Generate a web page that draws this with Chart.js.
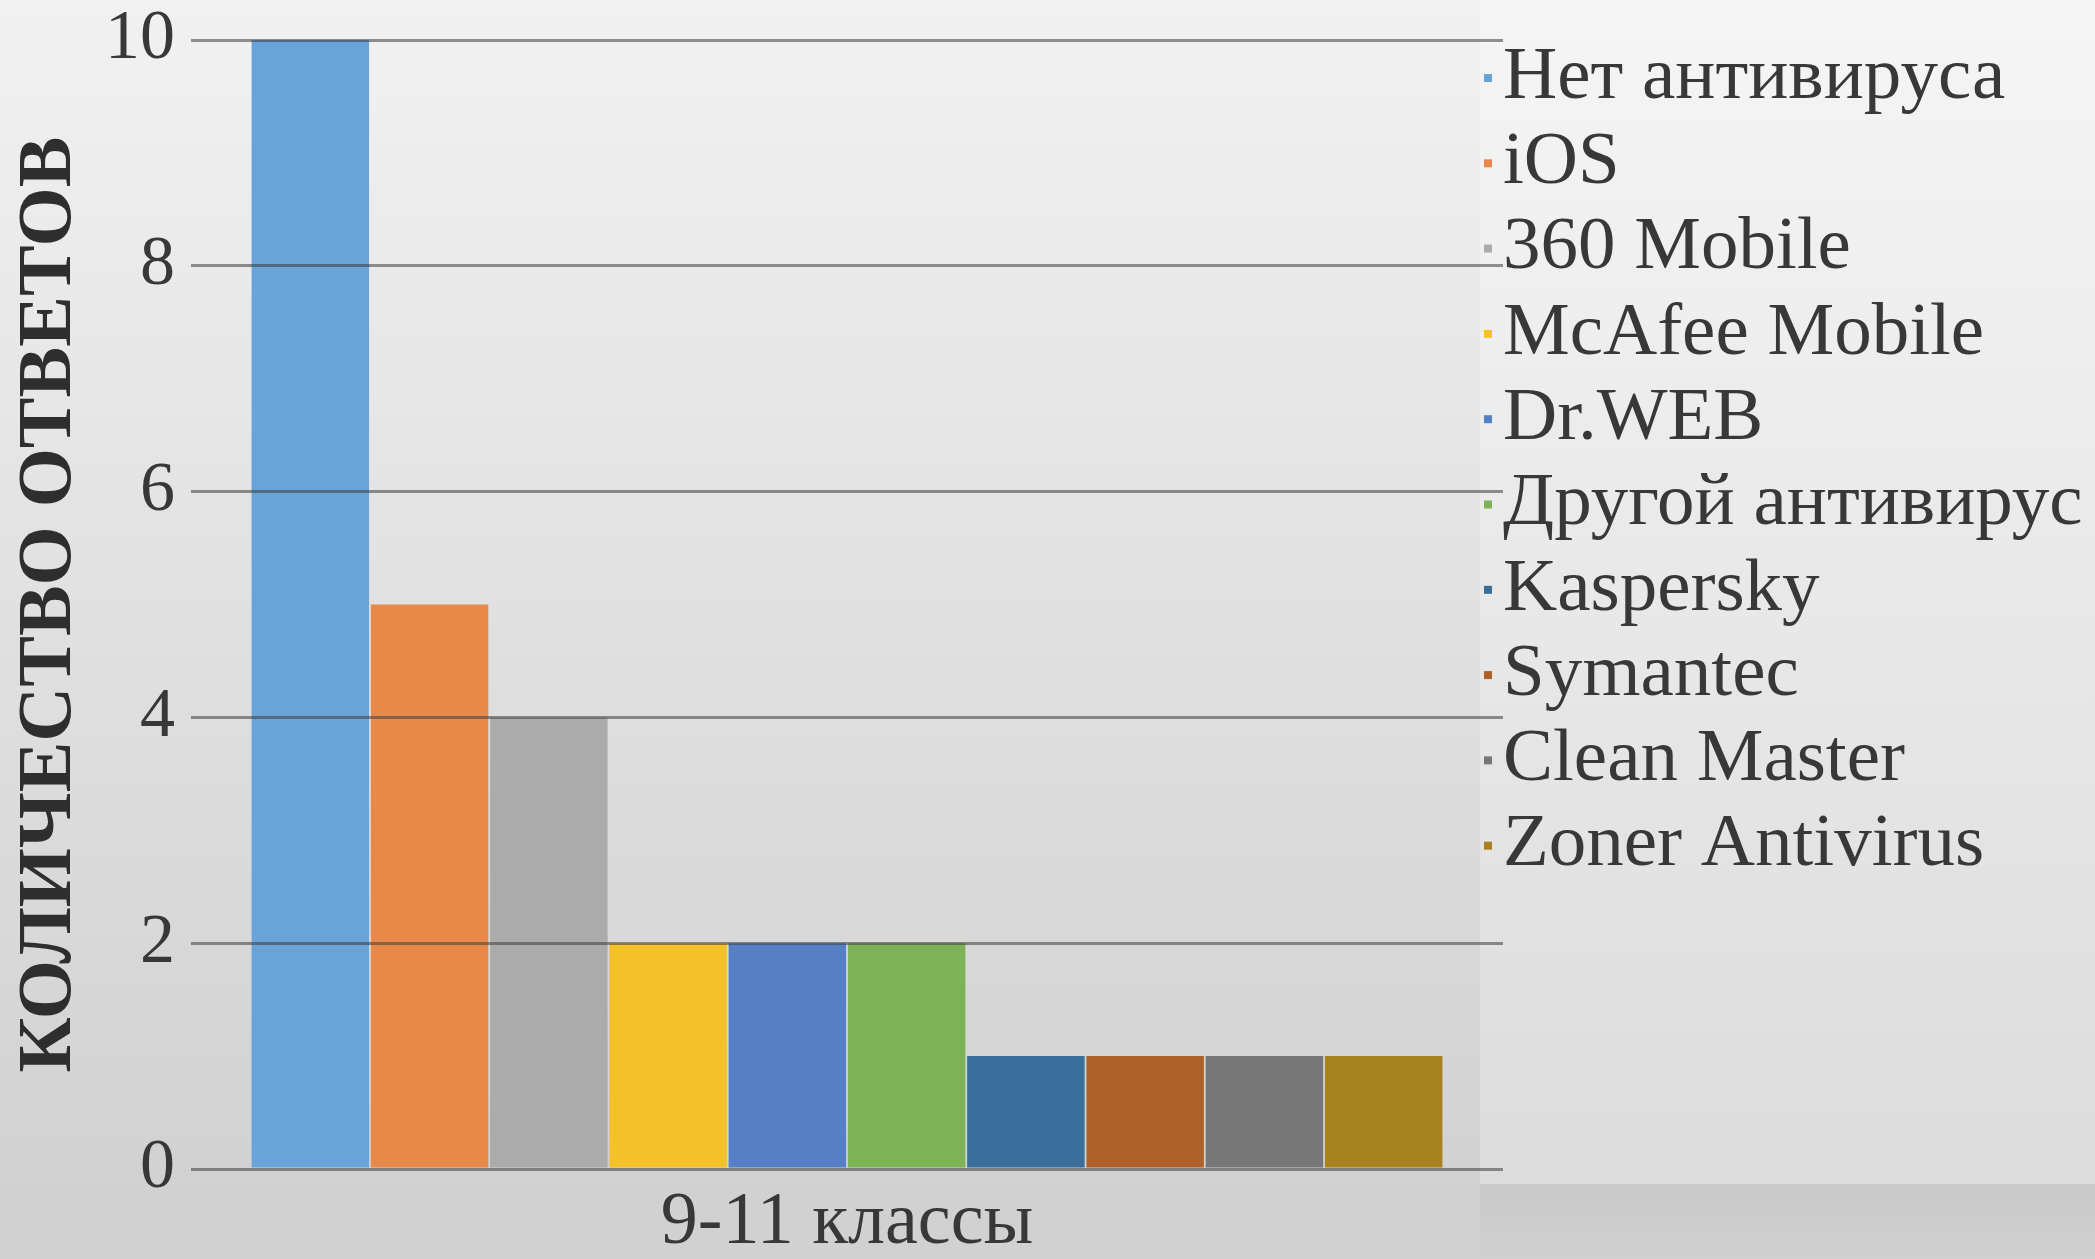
<!DOCTYPE html>
<html>
<head>
<meta charset="utf-8">
<script src="https://cdn.jsdelivr.net/npm/chart.js@4/dist/chart.umd.min.js"></script>
<style>
  html, body { margin: 0; padding: 0; background: #e6e6e6; }
  #wrap { width: 2095px; height: 1259px; position: relative; }
  canvas { display: block; }
</style>
</head>
<body>
<div id="wrap"><canvas id="c" width="2095" height="1259"></canvas></div>
<script>
const categories = ["9-11 классы"];
const seriesNames = ["Нет антивируса", "iOS", "360 Mobile", "McAfee Mobile", "Dr.WEB", "Другой антивирус", "Kaspersky", "Symantec", "Clean Master", "Zoner Antivirus"];
const seriesValues = [10, 5, 4, 2, 2, 2, 1, 1, 1, 1];
const seriesColors = ["#6aa3d8", "#e8894a", "#ababab", "#f5c12a", "#5680c6", "#7db356", "#3a6f9c", "#b0612a", "#777777", "#a8821f"];
const yTicks = [0, 2, 4, 6, 8, 10];
const yTitle = "КОЛИЧЕСТВО ОТВЕТОВ";

const SERIF = '"Liberation Serif", "DejaVu Serif", serif';
Chart.defaults.font.family = SERIF;
Chart.defaults.color = "#383838";

const bgPlugin = {
  id: "bg",
  beforeDraw(chart) {
    const ctx = chart.ctx, W = chart.width, H = chart.height;
    ctx.save();
    let g = ctx.createLinearGradient(0, 0, 0, 1184);
    g.addColorStop(0, "#f5f5f5");
    g.addColorStop(1, "#dcdcdc");
    ctx.fillStyle = g;
    ctx.fillRect(0, 0, W, H);
    let g2 = ctx.createLinearGradient(0, 1184, 0, H);
    g2.addColorStop(0, "#c9c9c9");
    g2.addColorStop(1, "#d0d0d0");
    ctx.fillStyle = g2;
    ctx.fillRect(1480, 1184, W - 1480, H - 1184);
    let g3 = ctx.createLinearGradient(0, 0, 0, H);
    g3.addColorStop(0, "rgba(0,0,0,0.015)");
    g3.addColorStop(1, "rgba(0,0,0,0.05)");
    ctx.fillStyle = g3;
    ctx.fillRect(0, 0, 1480, H);
    ctx.restore();
  }
};

const legendPlugin = {
  id: "sideLegend",
  afterDraw(chart, args, opts) {
    const ctx = chart.ctx;
    ctx.save();
    ctx.font = opts.fontSize + "px " + SERIF;
    ctx.textBaseline = "middle";
    ctx.textAlign = "left";
    chart.data.datasets.forEach((ds, i) => {
      const y = opts.top + i * opts.step;
      ctx.fillStyle = ds.backgroundColor;
      ctx.fillRect(opts.boxX, y - opts.box / 2, opts.box, opts.box);
      ctx.fillStyle = "#383838";
      ctx.fillText(ds.label, opts.textX, y);
    });
    ctx.restore();
  }
};

const datasets = seriesNames.map((name, i) => ({
  label: name,
  data: [seriesValues[i]],
  backgroundColor: seriesColors[i],
  borderWidth: 0,
  categoryPercentage: 0.909,
  barPercentage: 0.985
}));

new Chart(document.getElementById("c"), {
  type: "bar",
  data: { labels: categories, datasets },
  plugins: [bgPlugin, legendPlugin],
  options: {
    responsive: false,
    animation: false,
    layout: { autoPadding: false, padding: { top: 40, right: 592, left: 0, bottom: 0 } },
    plugins: {
      legend: { display: false },
      tooltip: { enabled: false },
      sideLegend: { top: 78, step: 85.3, boxX: 1484, box: 8, textX: 1503, fontSize: 75 }
    },
    scales: {
      x: {
        grid: { display: false, drawTicks: false },
        border: { display: false },
        ticks: { font: { size: 74 }, padding: 10, color: "#383838" },
        afterFit(scale) { scale.height = 90; }
      },
      y: {
        min: 0, max: 10,
        afterBuildTicks(scale) { scale.ticks = yTicks.map(v => ({ value: v })); },
        grid: { color: "rgba(60,60,60,0.55)", lineWidth: 3, drawTicks: false, z: 1 },
        border: { display: false },
        ticks: { font: { size: 70, lineHeight: 0.5 }, padding: 16, color: "#383838" },
        title: { display: true, text: yTitle, font: { size: 76, weight: "bold" }, color: "#2e2e2e", padding: { top: 5, bottom: 0 } },
        afterFit(scale) { scale.width = 191; }
      }
    }
  }
});
</script>
</body>
</html>
